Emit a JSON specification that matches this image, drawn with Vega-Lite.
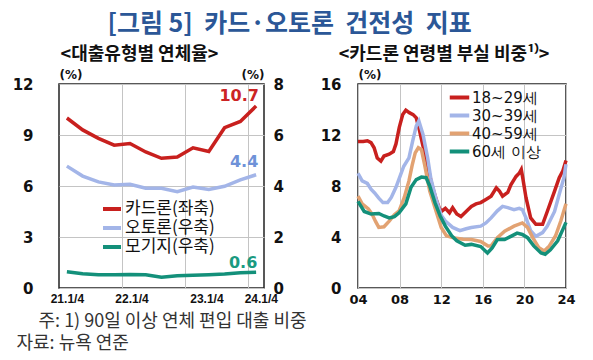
{
  "$schema": "https://vega.github.io/schema/vega-lite/v6.json",
  "background": "white",
  "padding": {"left": 11, "top": 12, "right": 5, "bottom": 5},
  "title": {"text": "[그림 5]\u00a0\u00a0카드·오토론\u00a0\u00a0건전성\u00a0\u00a0지표", "font": "Noto Sans CJK KR", "fontSize": 25, "fontWeight": "bold", "color": "#2b5797", "anchor": "middle", "offset": 8, "dx": -4},
  "config": {
    "view": {"stroke": "#222222", "strokeWidth": 1.5},
    "axis": {"grid": true, "gridColor": "#c4c4c4", "gridWidth": 1, "domain": false, "ticks": false, "labelFont": "DejaVu Sans", "labelFontWeight": "bold", "labelFontSize": 15, "labelColor": "#111111", "titleFont": "DejaVu Sans", "titleFontWeight": "bold", "titleFontSize": 12, "titleColor": "#111111"}
  },
  "resolve": {"scale": {"color": "independent"}, "legend": {"color": "independent"}},
  "datasets": {
    "loan": [
      {"q": 0, "s": "카드론(좌축)", "v": 10.0}, {"q": 1, "s": "카드론(좌축)", "v": 9.3}, {"q": 2, "s": "카드론(좌축)", "v": 8.8}, {"q": 3, "s": "카드론(좌축)", "v": 8.4}, {"q": 4, "s": "카드론(좌축)", "v": 8.5}, {"q": 5, "s": "카드론(좌축)", "v": 8.0}, {"q": 6, "s": "카드론(좌축)", "v": 7.63}, {"q": 7, "s": "카드론(좌축)", "v": 7.7}, {"q": 8, "s": "카드론(좌축)", "v": 8.25}, {"q": 9, "s": "카드론(좌축)", "v": 8.03}, {"q": 10, "s": "카드론(좌축)", "v": 9.43}, {"q": 11, "s": "카드론(좌축)", "v": 9.8}, {"q": 12, "s": "카드론(좌축)", "v": 10.7},
      {"q": 0, "s": "오토론(우축)", "v": 4.78}, {"q": 1, "s": "오토론(우축)", "v": 4.39}, {"q": 2, "s": "오토론(우축)", "v": 4.16}, {"q": 3, "s": "오토론(우축)", "v": 4.04}, {"q": 4, "s": "오토론(우축)", "v": 4.07}, {"q": 5, "s": "오토론(우축)", "v": 3.91}, {"q": 6, "s": "오토론(우축)", "v": 3.91}, {"q": 7, "s": "오토론(우축)", "v": 3.78}, {"q": 8, "s": "오토론(우축)", "v": 3.96}, {"q": 9, "s": "오토론(우축)", "v": 3.86}, {"q": 10, "s": "오토론(우축)", "v": 3.99}, {"q": 11, "s": "오토론(우축)", "v": 4.24}, {"q": 12, "s": "오토론(우축)", "v": 4.44},
      {"q": 0, "s": "모기지(우축)", "v": 0.64}, {"q": 1, "s": "모기지(우축)", "v": 0.56}, {"q": 2, "s": "모기지(우축)", "v": 0.52}, {"q": 3, "s": "모기지(우축)", "v": 0.52}, {"q": 4, "s": "모기지(우축)", "v": 0.53}, {"q": 5, "s": "모기지(우축)", "v": 0.52}, {"q": 6, "s": "모기지(우축)", "v": 0.42}, {"q": 7, "s": "모기지(우축)", "v": 0.48}, {"q": 8, "s": "모기지(우축)", "v": 0.5}, {"q": 9, "s": "모기지(우축)", "v": 0.52}, {"q": 10, "s": "모기지(우축)", "v": 0.55}, {"q": 11, "s": "모기지(우축)", "v": 0.6}, {"q": 12, "s": "모기지(우축)", "v": 0.62}
    ],
    "age": [
      {"yr": 2004.0, "a": "18~29세", "v": 11.5}, {"yr": 2004.5, "a": "18~29세", "v": 11.5}, {"yr": 2004.9, "a": "18~29세", "v": 11.55}, {"yr": 2005.25, "a": "18~29세", "v": 11.4}, {"yr": 2005.55, "a": "18~29세", "v": 11.0}, {"yr": 2005.85, "a": "18~29세", "v": 10.2}, {"yr": 2006.2, "a": "18~29세", "v": 9.95}, {"yr": 2006.5, "a": "18~29세", "v": 10.35}, {"yr": 2007.0, "a": "18~29세", "v": 10.5}, {"yr": 2007.4, "a": "18~29세", "v": 10.7}, {"yr": 2007.65, "a": "18~29세", "v": 11.3}, {"yr": 2007.97, "a": "18~29세", "v": 12.6}, {"yr": 2008.3, "a": "18~29세", "v": 13.6}, {"yr": 2008.6, "a": "18~29세", "v": 13.95}, {"yr": 2008.93, "a": "18~29세", "v": 13.75}, {"yr": 2009.3, "a": "18~29세", "v": 13.6}, {"yr": 2009.6, "a": "18~29세", "v": 13.35}, {"yr": 2009.9, "a": "18~29세", "v": 12.4}, {"yr": 2010.2, "a": "18~29세", "v": 11.3}, {"yr": 2010.5, "a": "18~29세", "v": 10.3}, {"yr": 2010.8, "a": "18~29세", "v": 9.2}, {"yr": 2011.1, "a": "18~29세", "v": 8.1}, {"yr": 2011.5, "a": "18~29세", "v": 7.0}, {"yr": 2011.8, "a": "18~29세", "v": 6.3}, {"yr": 2012.0, "a": "18~29세", "v": 6.0}, {"yr": 2012.4, "a": "18~29세", "v": 6.25}, {"yr": 2012.8, "a": "18~29세", "v": 5.9}, {"yr": 2013.1, "a": "18~29세", "v": 6.3}, {"yr": 2013.5, "a": "18~29세", "v": 5.8}, {"yr": 2013.9, "a": "18~29세", "v": 5.6}, {"yr": 2014.4, "a": "18~29세", "v": 6.0}, {"yr": 2014.9, "a": "18~29세", "v": 6.4}, {"yr": 2015.35, "a": "18~29세", "v": 6.6}, {"yr": 2015.8, "a": "18~29세", "v": 6.7}, {"yr": 2016.3, "a": "18~29세", "v": 6.95}, {"yr": 2016.8, "a": "18~29세", "v": 7.2}, {"yr": 2017.3, "a": "18~29세", "v": 7.85}, {"yr": 2017.6, "a": "18~29세", "v": 7.6}, {"yr": 2017.9, "a": "18~29세", "v": 7.2}, {"yr": 2018.4, "a": "18~29세", "v": 7.5}, {"yr": 2018.7, "a": "18~29세", "v": 8.1}, {"yr": 2019.2, "a": "18~29세", "v": 8.75}, {"yr": 2019.5, "a": "18~29세", "v": 9.0}, {"yr": 2019.7, "a": "18~29세", "v": 9.3}, {"yr": 2019.85, "a": "18~29세", "v": 8.6}, {"yr": 2020.15, "a": "18~29세", "v": 7.1}, {"yr": 2020.6, "a": "18~29세", "v": 5.5}, {"yr": 2021.1, "a": "18~29세", "v": 5.0}, {"yr": 2021.75, "a": "18~29세", "v": 5.0}, {"yr": 2022.2, "a": "18~29세", "v": 6.0}, {"yr": 2022.9, "a": "18~29세", "v": 7.6}, {"yr": 2023.35, "a": "18~29세", "v": 8.65}, {"yr": 2023.7, "a": "18~29세", "v": 9.2}, {"yr": 2024.0, "a": "18~29세", "v": 10.0},
      {"yr": 2004.0, "a": "30~39세", "v": 9.0}, {"yr": 2004.4, "a": "30~39세", "v": 8.4}, {"yr": 2004.9, "a": "30~39세", "v": 8.2}, {"yr": 2005.25, "a": "30~39세", "v": 7.75}, {"yr": 2005.6, "a": "30~39세", "v": 7.45}, {"yr": 2006.0, "a": "30~39세", "v": 7.05}, {"yr": 2006.4, "a": "30~39세", "v": 6.7}, {"yr": 2006.85, "a": "30~39세", "v": 6.7}, {"yr": 2007.2, "a": "30~39세", "v": 7.1}, {"yr": 2007.65, "a": "30~39세", "v": 7.9}, {"yr": 2008.1, "a": "30~39세", "v": 8.9}, {"yr": 2008.4, "a": "30~39세", "v": 9.55}, {"yr": 2008.9, "a": "30~39세", "v": 10.2}, {"yr": 2009.25, "a": "30~39세", "v": 11.5}, {"yr": 2009.6, "a": "30~39세", "v": 12.7}, {"yr": 2009.85, "a": "30~39세", "v": 13.1}, {"yr": 2010.25, "a": "30~39세", "v": 12.05}, {"yr": 2010.7, "a": "30~39세", "v": 10.2}, {"yr": 2011.0, "a": "30~39세", "v": 8.6}, {"yr": 2011.5, "a": "30~39세", "v": 7.0}, {"yr": 2012.0, "a": "30~39세", "v": 5.7}, {"yr": 2012.4, "a": "30~39세", "v": 5.25}, {"yr": 2013.1, "a": "30~39세", "v": 4.75}, {"yr": 2013.8, "a": "30~39세", "v": 4.5}, {"yr": 2014.4, "a": "30~39세", "v": 4.65}, {"yr": 2014.9, "a": "30~39세", "v": 4.75}, {"yr": 2015.8, "a": "30~39세", "v": 4.85}, {"yr": 2016.3, "a": "30~39세", "v": 5.1}, {"yr": 2016.8, "a": "30~39세", "v": 5.5}, {"yr": 2017.4, "a": "30~39세", "v": 6.05}, {"yr": 2017.9, "a": "30~39세", "v": 6.4}, {"yr": 2018.4, "a": "30~39세", "v": 6.3}, {"yr": 2019.0, "a": "30~39세", "v": 6.15}, {"yr": 2019.5, "a": "30~39세", "v": 6.25}, {"yr": 2019.8, "a": "30~39세", "v": 6.15}, {"yr": 2020.15, "a": "30~39세", "v": 5.5}, {"yr": 2020.6, "a": "30~39세", "v": 4.5}, {"yr": 2021.1, "a": "30~39세", "v": 4.05}, {"yr": 2021.75, "a": "30~39세", "v": 4.35}, {"yr": 2022.2, "a": "30~39세", "v": 4.85}, {"yr": 2022.9, "a": "30~39세", "v": 6.0}, {"yr": 2023.35, "a": "30~39세", "v": 7.35}, {"yr": 2023.8, "a": "30~39세", "v": 8.65}, {"yr": 2024.0, "a": "30~39세", "v": 9.7},
      {"yr": 2004.0, "a": "40~59세", "v": 7.2}, {"yr": 2004.4, "a": "40~59세", "v": 6.6}, {"yr": 2005.0, "a": "40~59세", "v": 6.2}, {"yr": 2005.35, "a": "40~59세", "v": 5.8}, {"yr": 2005.7, "a": "40~59세", "v": 5.2}, {"yr": 2006.0, "a": "40~59세", "v": 4.75}, {"yr": 2006.5, "a": "40~59세", "v": 4.8}, {"yr": 2007.0, "a": "40~59세", "v": 5.25}, {"yr": 2007.5, "a": "40~59세", "v": 5.75}, {"yr": 2007.95, "a": "40~59세", "v": 6.05}, {"yr": 2008.45, "a": "40~59세", "v": 7.1}, {"yr": 2008.9, "a": "40~59세", "v": 8.4}, {"yr": 2009.2, "a": "40~59세", "v": 9.6}, {"yr": 2009.5, "a": "40~59세", "v": 10.6}, {"yr": 2009.8, "a": "40~59세", "v": 11.0}, {"yr": 2010.1, "a": "40~59세", "v": 10.85}, {"yr": 2010.4, "a": "40~59세", "v": 9.7}, {"yr": 2010.9, "a": "40~59세", "v": 7.6}, {"yr": 2011.5, "a": "40~59세", "v": 6.05}, {"yr": 2012.0, "a": "40~59세", "v": 4.75}, {"yr": 2012.5, "a": "40~59세", "v": 4.1}, {"yr": 2013.1, "a": "40~59세", "v": 3.95}, {"yr": 2014.1, "a": "40~59세", "v": 3.82}, {"yr": 2014.9, "a": "40~59세", "v": 3.8}, {"yr": 2015.8, "a": "40~59세", "v": 3.65}, {"yr": 2016.5, "a": "40~59세", "v": 3.3}, {"yr": 2016.8, "a": "40~59세", "v": 3.3}, {"yr": 2017.4, "a": "40~59세", "v": 3.95}, {"yr": 2018.1, "a": "40~59세", "v": 4.45}, {"yr": 2019.0, "a": "40~59세", "v": 4.85}, {"yr": 2019.8, "a": "40~59세", "v": 5.1}, {"yr": 2020.3, "a": "40~59세", "v": 4.75}, {"yr": 2020.8, "a": "40~59세", "v": 3.95}, {"yr": 2021.4, "a": "40~59세", "v": 3.15}, {"yr": 2021.9, "a": "40~59세", "v": 2.9}, {"yr": 2022.4, "a": "40~59세", "v": 3.3}, {"yr": 2023.0, "a": "40~59세", "v": 4.1}, {"yr": 2023.5, "a": "40~59세", "v": 5.25}, {"yr": 2024.0, "a": "40~59세", "v": 6.6},
      {"yr": 2004.0, "a": "60세 이상", "v": 6.8}, {"yr": 2004.6, "a": "60세 이상", "v": 6.0}, {"yr": 2005.25, "a": "60세 이상", "v": 5.8}, {"yr": 2006.0, "a": "60세 이상", "v": 5.85}, {"yr": 2006.5, "a": "60세 이상", "v": 5.65}, {"yr": 2007.0, "a": "60세 이상", "v": 5.5}, {"yr": 2007.5, "a": "60세 이상", "v": 5.6}, {"yr": 2007.95, "a": "60세 이상", "v": 5.9}, {"yr": 2008.6, "a": "60세 이상", "v": 6.6}, {"yr": 2009.1, "a": "60세 이상", "v": 7.9}, {"yr": 2009.6, "a": "60세 이상", "v": 8.5}, {"yr": 2010.1, "a": "60세 이상", "v": 8.7}, {"yr": 2010.55, "a": "60세 이상", "v": 8.65}, {"yr": 2010.9, "a": "60세 이상", "v": 8.0}, {"yr": 2011.4, "a": "60세 이상", "v": 6.7}, {"yr": 2011.9, "a": "60세 이상", "v": 5.65}, {"yr": 2012.4, "a": "60세 이상", "v": 4.85}, {"yr": 2013.0, "a": "60세 이상", "v": 4.1}, {"yr": 2013.5, "a": "60세 이상", "v": 3.7}, {"yr": 2014.3, "a": "60세 이상", "v": 3.35}, {"yr": 2014.9, "a": "60세 이상", "v": 3.42}, {"yr": 2015.8, "a": "60세 이상", "v": 3.25}, {"yr": 2016.45, "a": "60세 이상", "v": 2.75}, {"yr": 2016.9, "a": "60세 이상", "v": 3.15}, {"yr": 2017.4, "a": "60세 이상", "v": 3.8}, {"yr": 2018.1, "a": "60세 이상", "v": 3.8}, {"yr": 2018.7, "a": "60세 이상", "v": 4.05}, {"yr": 2019.3, "a": "60세 이상", "v": 4.3}, {"yr": 2019.8, "a": "60세 이상", "v": 4.2}, {"yr": 2020.3, "a": "60세 이상", "v": 3.95}, {"yr": 2020.9, "a": "60세 이상", "v": 3.3}, {"yr": 2021.6, "a": "60세 이상", "v": 2.75}, {"yr": 2022.0, "a": "60세 이상", "v": 2.65}, {"yr": 2022.5, "a": "60세 이상", "v": 3.0}, {"yr": 2023.2, "a": "60세 이상", "v": 3.7}, {"yr": 2023.7, "a": "60세 이상", "v": 4.6}, {"yr": 2024.0, "a": "60세 이상", "v": 5.15}
    ]
  },
  "bounds": "flush",
  "spacing": 94,
  "hconcat": [
    {
      "width": 205,
      "height": 204,
      "title": {"text": "<대출유형별 연체율>", "font": "Noto Sans CJK KR", "fontSize": 18, "fontWeight": "bold", "color": "#111111", "offset": 4, "dx": -22},
      "data": {"name": "loan"},
      "encoding": {
        "x": {"field": "q", "type": "quantitative", "scale": {"domain": [-0.5, 12.5], "nice": false, "zero": false},
          "axis": {"values": [0, 3.5, 4.1, 7.5, 8.85, 11.5, 12.3],
            "labelExpr": "datum.value == 0 ? '21.1/4' : datum.value == 4.1 ? '22.1/4' : datum.value == 8.85 ? '23.1/4' : datum.value == 12.3 ? '24.1/4' : ''",
            "gridOpacity": {"condition": {"test": "datum.value == 3.5 || datum.value == 7.5 || datum.value == 11.5", "value": 1}, "value": 0},
            "labelFont": "Liberation Sans", "labelFontSize": 12, "labelFontWeight": "bold", "labelPadding": 5, "labelFlush": false, "labelOverlap": false,
            "title": ["\u200b\u3000\u00a0주: 1) 90일 이상 연체 편입 대출 비중", "자료: 뉴욕 연준"],
            "titleFont": "Noto Sans CJK KR", "titleFontWeight": "normal", "titleFontSize": 18, "titleColor": "#333333",
            "titleAnchor": "start", "titleAlign": "left", "titleBaseline": "top", "titleX": -43, "titleY": 24, "titleLineHeight": 22}}
      },
      "layer": [
        {
          "transform": [{"filter": "datum.s === '카드론(좌축)'"}],
          "encoding": {
            "y": {"field": "v", "type": "quantitative", "scale": {"domain": [0, 12], "nice": false},
              "axis": {"orient": "left", "values": [0, 3, 6, 9, 12], "title": "(%)", "titleAngle": 0, "titleAlign": "left", "titleBaseline": "bottom", "titleX": 0, "titleY": -3, "labelPadding": 26}}
          },
          "layer": [
            {"mark": {"type": "line", "strokeWidth": 3.5},
             "encoding": {"color": {"field": "s", "type": "nominal",
               "scale": {"domain": ["카드론(좌축)", "오토론(우축)", "모기지(우축)"], "range": ["#c8201e", "#a3b5e8", "#13907a"]},
               "legend": {"orient": "none", "legendX": 42, "legendY": 114, "title": null, "symbolType": "stroke", "symbolStrokeWidth": 4, "symbolSize": 324, "labelFont": "Noto Sans CJK KR", "labelFontSize": 17, "labelColor": "#111111", "labelOffset": 2, "rowPadding": 0}}}},
            {"transform": [{"filter": "datum.q === 12"}],
             "mark": {"type": "text", "dx": -17, "dy": -10, "align": "center", "baseline": "middle", "font": "DejaVu Sans", "fontWeight": "bold", "fontSize": 16, "color": "#cc2424"},
             "encoding": {"text": {"field": "v", "type": "quantitative", "format": ".1f"}}}
          ]
        },
        {
          "transform": [{"filter": "datum.s !== '카드론(좌축)'"}],
          "encoding": {
            "y": {"field": "v", "type": "quantitative", "scale": {"domain": [0, 8], "nice": false},
              "axis": {"orient": "right", "values": [0, 2, 4, 6, 8], "grid": false, "title": "(%)", "titleAngle": 0, "titleAlign": "right", "titleBaseline": "bottom", "titleX": 0, "titleY": -3, "labelPadding": 9}}
          },
          "layer": [
            {"mark": {"type": "line", "strokeWidth": 3.5},
             "encoding": {"color": {"field": "s", "type": "nominal"}}},
            {"transform": [{"filter": "datum.q === 12 && datum.s === '오토론(우축)'"}],
             "mark": {"type": "text", "dx": -12, "dy": -13, "align": "center", "baseline": "middle", "font": "DejaVu Sans", "fontWeight": "bold", "fontSize": 16, "color": "#6f92d8"},
             "encoding": {"text": {"field": "v", "type": "quantitative", "format": ".1f"}}},
            {"transform": [{"filter": "datum.q === 12 && datum.s === '모기지(우축)'"}],
             "mark": {"type": "text", "dx": -13, "dy": -9, "align": "center", "baseline": "middle", "font": "DejaVu Sans", "fontWeight": "bold", "fontSize": 16, "color": "#1a9a80"},
             "encoding": {"text": {"field": "v", "type": "quantitative", "format": ".1f"}}}
          ]
        }
      ],
      "resolve": {"scale": {"y": "independent"}}
    },
    {
      "width": 208,
      "height": 204,
      "title": {"text": "<카드론 연령별 부실 비중¹⁾>", "font": "Noto Sans CJK KR", "fontSize": 18, "fontWeight": "bold", "color": "#111111", "offset": 4, "dx": -18},
      "data": {"name": "age"},
      "mark": {"type": "line", "strokeWidth": 3.5},
      "encoding": {
        "x": {"field": "yr", "type": "quantitative", "scale": {"domain": [2004, 2024], "nice": false, "zero": false},
          "axis": {"values": [2004, 2008, 2012, 2016, 2020, 2024], "format": "d", "labelExpr": "slice(datum.label, 2)", "title": null, "labelFontSize": 13, "labelPadding": 5, "labelFlush": false}},
        "y": {"field": "v", "type": "quantitative", "scale": {"domain": [0, 16], "nice": false},
          "axis": {"values": [0, 4, 8, 12, 16], "title": "(%)", "titleAngle": 0, "titleAlign": "left", "titleBaseline": "bottom", "titleX": 0, "titleY": -3, "labelPadding": 17}},
        "color": {"field": "a", "type": "nominal",
          "scale": {"domain": ["18~29세", "30~39세", "40~59세", "60세 이상"], "range": ["#c8201e", "#a3b5e8", "#e2a272", "#13907a"]},
          "legend": {"orient": "none", "legendX": 92, "legendY": 4, "title": null, "symbolType": "M-1.3,0H1.3", "symbolStrokeWidth": 4, "symbolSize": 225, "labelFont": "DejaVu Sans", "labelFontSize": 15, "labelColor": "#111111", "labelOffset": 3, "rowPadding": 0}}
      }
    }
  ]
}
